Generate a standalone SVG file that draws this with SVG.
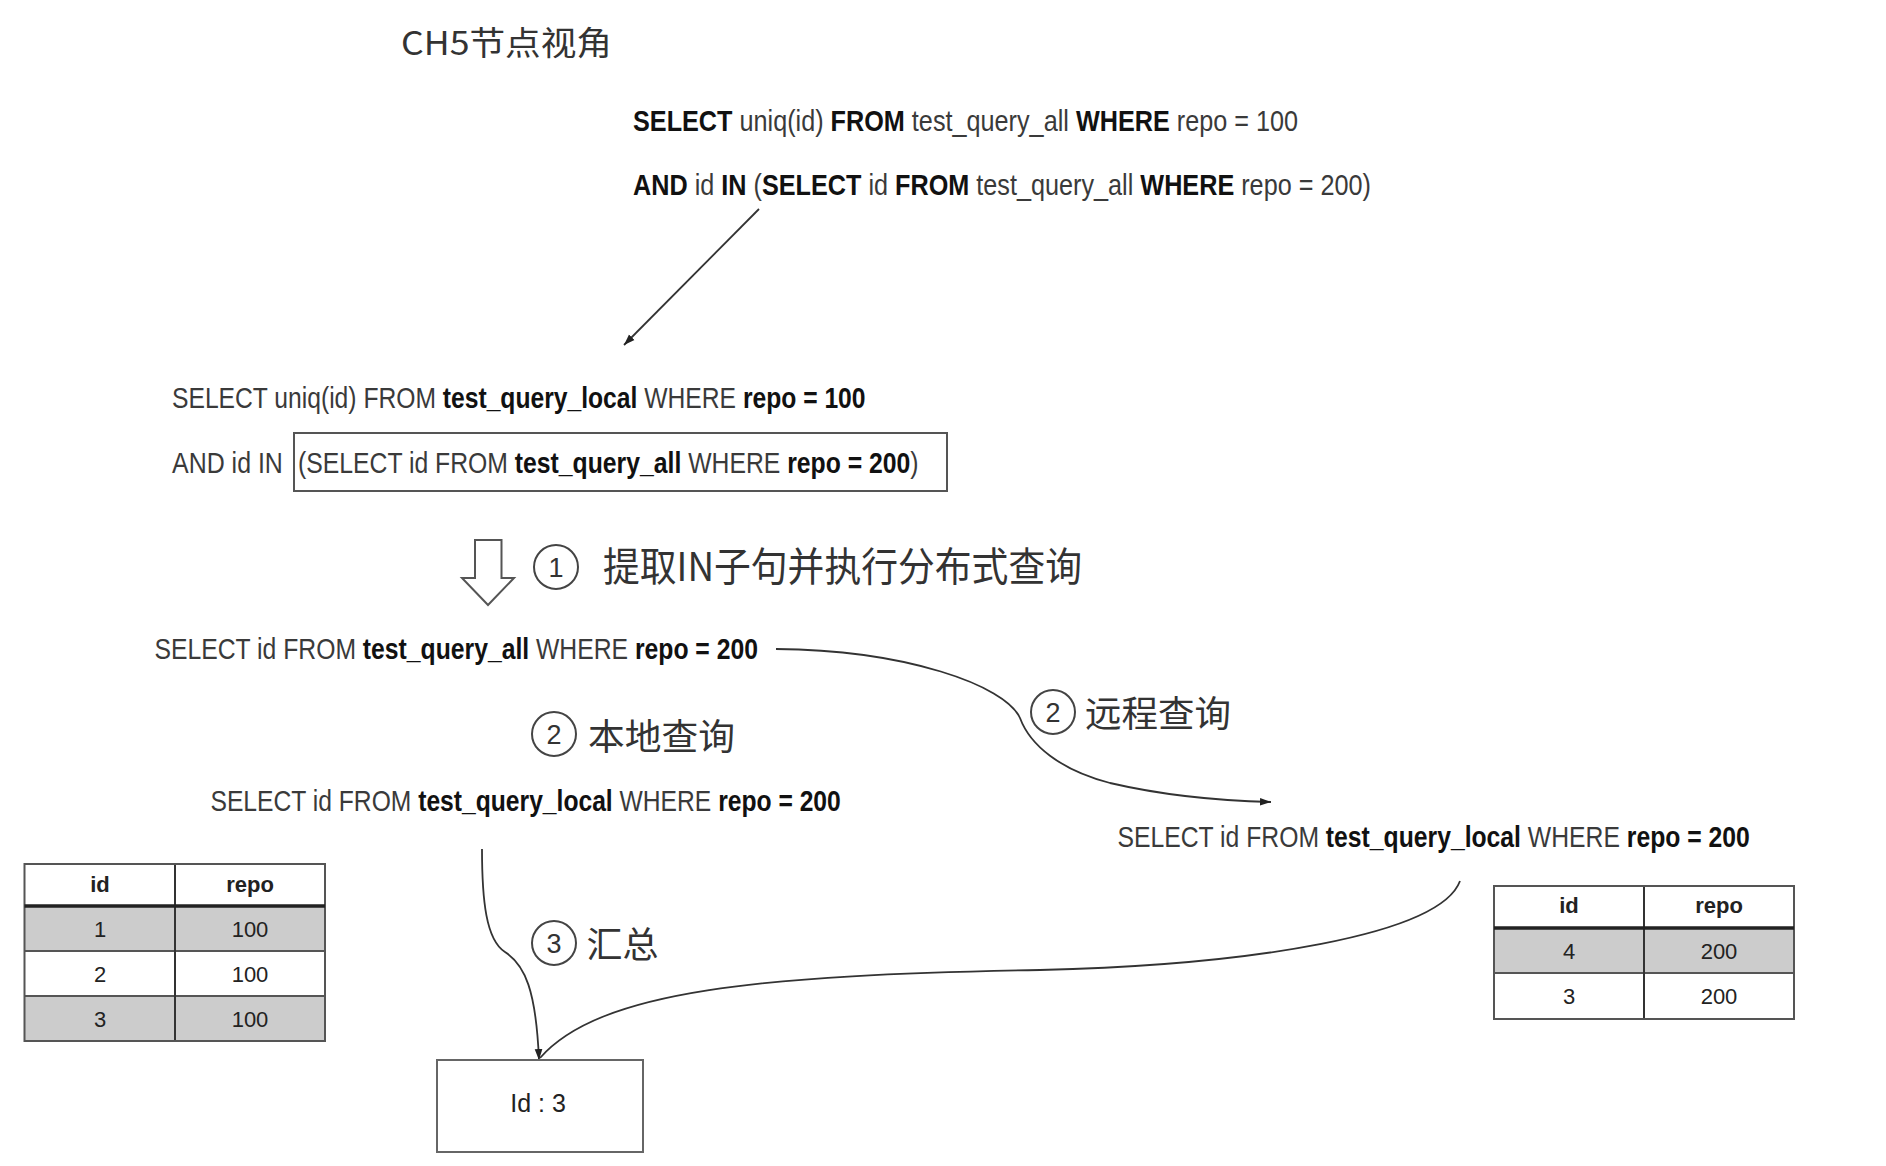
<svg xmlns="http://www.w3.org/2000/svg" width="1886" height="1166" viewBox="0 0 1886 1166">
  <style>
    .sql { font-family: "Liberation Sans", Arial, sans-serif; fill: #3a3a3a; }
    .b { font-weight: bold; fill: #111; }
    .cjk { font-family: "Noto Sans CJK SC", "Liberation Sans", sans-serif; fill: #333; }
    .num { font-family: "Liberation Sans", Arial, sans-serif; font-size: 27px; fill: #333; text-anchor: middle; }
    .ring { fill: none; stroke: #444; stroke-width: 2; }
    .conn { fill: none; stroke: #333; stroke-width: 1.8; }
    .tbl { font-family: "Liberation Sans", Arial, sans-serif; font-size: 22px; fill: #222; text-anchor: middle; }
    .th { font-weight: bold; }
    .grid { stroke: #555; stroke-width: 2; fill: none; }
    .gray { fill: #cccccc; }
    .white { fill: #ffffff; }
  </style>
  <defs>
    <marker id="ah" viewBox="0 0 10 10" refX="10" refY="5" markerWidth="11" markerHeight="11" markerUnits="userSpaceOnUse" orient="auto">
      <path d="M0,1.5 L10,5 L0,8.5 z" fill="#222"/>
    </marker>
  </defs>
  <rect width="1886" height="1166" fill="#ffffff"/>

  <g id="connectors">
    <line class="conn" x1="759" y1="209" x2="624" y2="345" marker-end="url(#ah)"/>
    <path class="conn" d="M776,649 C905,650 1005,685 1020,718 C1030,745 1060,770 1110,783 C1170,797 1230,801 1271,802" marker-end="url(#ah)"/>
    <path class="conn" d="M482,849 C482,900 486,940 505,952 C525,965 536,990 539,1060" marker-end="url(#ah)"/>
    <path class="conn" d="M1460,881 C1440,935 1250,965 1040,970 C760,975 600,990 540,1058"/>
    <polygon id="hollow-arrow" points="475,540 501.5,540 501.5,578 514,578 488,605 462,578 475,578" fill="#ffffff" stroke="#555" stroke-width="2"/>
  </g>

  <g id="title">
    <text class="cjk" x="401" y="55" font-size="33" textLength="211" lengthAdjust="spacingAndGlyphs">CH5节点视角</text>
  </g>

  <g id="query-top">
    <text class="sql" transform="translate(633,130.5) scale(0.841,1)" font-size="30"><tspan class="b">SELECT</tspan> uniq(id) <tspan class="b">FROM</tspan> test_query_all <tspan class="b">WHERE</tspan> repo = 100</text>
    <text class="sql" transform="translate(633,195) scale(0.841,1)" font-size="30"><tspan class="b">AND</tspan> id <tspan class="b">IN</tspan> (<tspan class="b">SELECT</tspan> id <tspan class="b">FROM</tspan> test_query_all <tspan class="b">WHERE</tspan> repo = 200)</text>
  </g>

  <g id="query-rewritten">
    <text class="sql" transform="translate(172,408) scale(0.822,1)" font-size="30">SELECT uniq(id) FROM <tspan class="b">test_query_local</tspan> WHERE <tspan class="b">repo = 100</tspan></text>
    <text class="sql" transform="translate(172,473) scale(0.832,1)" font-size="30">AND id IN</text>
    <rect x="294" y="433" width="653" height="58" fill="none" stroke="#555" stroke-width="2"/>
    <text class="sql" transform="translate(298,473) scale(0.825,1)" font-size="30">(SELECT id FROM <tspan class="b">test_query_all</tspan> WHERE <tspan class="b">repo = 200</tspan>)</text>
  </g>

  <g id="step1-label">
    <circle class="ring" cx="556" cy="567" r="22"/>
    <text class="num" x="556" y="576.5">1</text>
    <text class="cjk" x="603" y="581" font-size="40" textLength="479" lengthAdjust="spacingAndGlyphs">提取IN子句并执行分布式查询</text>
  </g>

  <g id="query-in">
    <text class="sql" transform="translate(154.5,658.5) scale(0.853,1)" font-size="29">SELECT id FROM <tspan class="b">test_query_all</tspan> WHERE <tspan class="b">repo = 200</tspan></text>
  </g>

  <g id="step2-local-label">
    <circle class="ring" cx="554" cy="734" r="22"/>
    <text class="num" x="554" y="743.5">2</text>
    <text class="cjk" x="588" y="749.5" font-size="36" textLength="147" lengthAdjust="spacingAndGlyphs">本地查询</text>
  </g>

  <g id="step2-remote-label">
    <circle class="ring" cx="1053" cy="712" r="22"/>
    <text class="num" x="1053" y="721.5">2</text>
    <text class="cjk" x="1085" y="727" font-size="36" textLength="146" lengthAdjust="spacingAndGlyphs">远程查询</text>
  </g>

  <g id="query-local">
    <text class="sql" transform="translate(210.5,811) scale(0.85,1)" font-size="29">SELECT id FROM <tspan class="b">test_query_local</tspan> WHERE <tspan class="b">repo = 200</tspan></text>
  </g>

  <g id="query-remote">
    <text class="sql" transform="translate(1117.5,847) scale(0.853,1)" font-size="29">SELECT id FROM <tspan class="b">test_query_local</tspan> WHERE <tspan class="b">repo = 200</tspan></text>
  </g>

  <g id="step3-label">
    <circle class="ring" cx="554" cy="943" r="22"/>
    <text class="num" x="554" y="952.5">3</text>
    <text class="cjk" x="586.5" y="957.5" font-size="36" textLength="72" lengthAdjust="spacingAndGlyphs">汇总</text>
  </g>

  <g id="table-left">
    <rect class="white" x="24.5" y="864" width="300.5" height="42"/>
    <rect class="gray" x="24.5" y="906" width="300.5" height="45"/>
    <rect class="white" x="24.5" y="951" width="300.5" height="45"/>
    <rect class="gray" x="24.5" y="996" width="300.5" height="45"/>
    <line class="grid" x1="24.5" y1="951" x2="325" y2="951"/>
    <line class="grid" x1="24.5" y1="996" x2="325" y2="996"/>
    <line x1="175" y1="864" x2="175" y2="1041" stroke="#333" stroke-width="2"/>
    <rect class="grid" x="24.5" y="864" width="300.5" height="177"/>
    <line x1="24.5" y1="906" x2="325" y2="906" stroke="#222" stroke-width="3.5"/>
    <text class="tbl th" x="100" y="892">id</text>
    <text class="tbl th" x="250" y="892">repo</text>
    <text class="tbl" x="100" y="936.5">1</text>
    <text class="tbl" x="250" y="936.5">100</text>
    <text class="tbl" x="100" y="981.5">2</text>
    <text class="tbl" x="250" y="981.5">100</text>
    <text class="tbl" x="100" y="1026.5">3</text>
    <text class="tbl" x="250" y="1026.5">100</text>
  </g>

  <g id="table-right">
    <rect class="white" x="1494" y="886" width="300" height="42"/>
    <rect class="gray" x="1494" y="928" width="300" height="45"/>
    <rect class="white" x="1494" y="973" width="300" height="46"/>
    <line class="grid" x1="1494" y1="973" x2="1794" y2="973"/>
    <line x1="1644" y1="886" x2="1644" y2="1019" stroke="#333" stroke-width="2"/>
    <rect class="grid" x="1494" y="886" width="300" height="133"/>
    <line x1="1494" y1="928" x2="1794" y2="928" stroke="#222" stroke-width="3.5"/>
    <text class="tbl th" x="1569" y="913">id</text>
    <text class="tbl th" x="1719" y="913">repo</text>
    <text class="tbl" x="1569" y="958.5">4</text>
    <text class="tbl" x="1719" y="958.5">200</text>
    <text class="tbl" x="1569" y="1003.5">3</text>
    <text class="tbl" x="1719" y="1003.5">200</text>
  </g>

  <g id="result-box">
    <rect x="437" y="1060" width="206" height="92" fill="#ffffff" stroke="#666" stroke-width="2"/>
    <text x="538" y="1112" font-family="Liberation Sans, Arial, sans-serif" font-size="25" fill="#222" text-anchor="middle">Id : 3</text>
  </g>
</svg>
